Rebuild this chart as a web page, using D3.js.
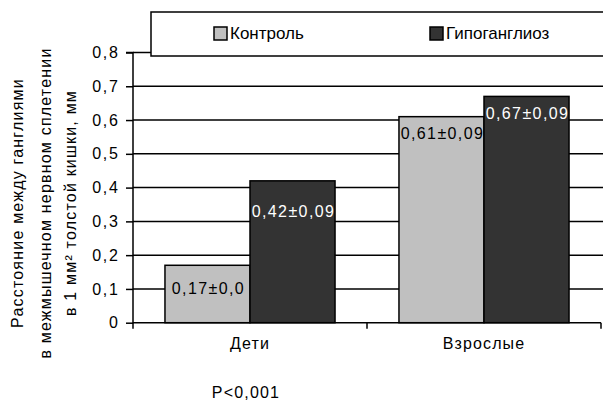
<!DOCTYPE html>
<html>
<head>
<meta charset="utf-8">
<script src="https://cdn.jsdelivr.net/npm/d3@7/dist/d3.min.js"></script>
<style>
  html, body { margin: 0; padding: 0; background: #fff; }
  svg { display: block; font-family: Arial, "Liberation Sans", sans-serif; }
</style>
</head>
<body>
<svg id="chart" width="603" height="403"></svg>
<script>
// Distance between ganglia, children vs adults
const categories = ["Дети", "Взрослые"];
const seriesNames = ["Контроль", "Гипоганглиоз"];
const controlValues = [0.17, 0.61];
const hypoValues = [0.42, 0.67];
const controlLabels = ["0,17±0,0", "0,61±0,09"];
const hypoLabels = ["0,42±0,09", "0,67±0,09"];
const yTicks = [0, 0.1, 0.2, 0.3, 0.4, 0.5, 0.6, 0.7, 0.8];
const yTitle = ["Расстояние между ганглиями", "в межмышечном нервном сплетении", "в 1 мм² толстой кишки, мм"];
const note = "P<0,001";

const colors = ["#c0c0c0", "#333333"];
const labelColors = ["#000", "#fff"];
const FONT = "Arial, 'Liberation Sans', sans-serif";

const svg = d3.select("#chart");
const m = { left: 133, right: 601, top: 52.5, bottom: 322.7 };

const y = d3.scaleLinear().domain([0, 0.8]).range([m.bottom, m.top]);
const x0 = d3.scaleBand().domain(categories).range([m.left, m.right]).paddingInner(0).paddingOuter(0);
const x1 = d3.scaleBand().domain(seriesNames).range([0, x0.bandwidth()]).paddingInner(0).paddingOuter(0.376);

// Horizontal gridlines
svg.append("g").selectAll("line").data(yTicks.filter(d => d > 0)).join("line")
  .attr("x1", m.left).attr("x2", m.right + 2)
  .attr("y1", d => y(d)).attr("y2", d => y(d))
  .attr("stroke", "#000").attr("stroke-width", 1.5);

// Y axis
const yAxis = d3.axisLeft(y).tickValues(yTicks).tickSize(7).tickPadding(8)
  .tickFormat(d => d === 0 ? "0" : d3.format(".1f")(d).replace(".", ","));
const yg = svg.append("g").attr("transform", `translate(${m.left},0)`).call(yAxis);
yg.select(".domain").attr("stroke", "#000").attr("stroke-width", 1.5).attr("d", `M-7,${m.top}H0V${m.bottom + 0.5}`);
yg.selectAll(".tick line").attr("stroke", "#000").attr("stroke-width", 1.5);
yg.selectAll(".tick text").attr("font-size", 16).attr("fill", "#000").attr("letter-spacing", 1.8)
  .attr("dx", 1.8).attr("font-family", FONT);

// Bars and value labels, series by series
const seriesData = [
  { name: seriesNames[0], values: controlValues, labels: controlLabels, dy: [23, 16.5] },
  { name: seriesNames[1], values: hypoValues, labels: hypoLabels, dy: [31, 17] }
];
seriesData.forEach((s, si) => {
  const g = svg.append("g");
  g.selectAll("rect").data(categories).join("rect")
    .attr("x", c => x0(c) + x1(s.name))
    .attr("y", (c, i) => y(s.values[i]))
    .attr("width", x1.bandwidth())
    .attr("height", (c, i) => y(0) - y(s.values[i]))
    .attr("fill", colors[si]).attr("stroke", "#000").attr("stroke-width", 1.5);
  g.selectAll("text").data(categories).join("text")
    .attr("x", c => x0(c) + x1(s.name) + x1.bandwidth() / 2 + 1)
    .attr("y", (c, i) => y(s.values[i]) + s.dy[i])
    .attr("dy", "0.35em")
    .attr("text-anchor", "middle")
    .attr("font-size", 16).attr("letter-spacing", 1.4)
    .attr("fill", labelColors[si])
    .text((c, i) => s.labels[i]);
});

// X axis
const xAxis = d3.axisBottom(x0).tickSize(0).tickPadding(15);
const xg = svg.append("g").attr("transform", `translate(0,${m.bottom})`).call(xAxis);
xg.select(".domain").attr("stroke", "#000").attr("stroke-width", 1.5).attr("d", `M${m.left},0H${m.right}`);
xg.selectAll(".tick text").attr("font-size", 16).attr("fill", "#000").attr("letter-spacing", 1.1)
  .attr("font-family", FONT);
xg.append("g").selectAll("line").data([m.left, m.left + x0.bandwidth(), m.right]).join("line")
  .attr("x1", d => d).attr("x2", d => d).attr("y1", 0).attr("y2", 6)
  .attr("stroke", "#000").attr("stroke-width", 1.5);

// Note below the chart
svg.append("text").attr("x", 246).attr("y", 398).attr("text-anchor", "middle")
  .attr("font-size", 16).attr("letter-spacing", 1.2).text(note);

// Y axis title (three rotated lines)
const titleX = [17, 45, 70];
yTitle.forEach((t, i) => {
  svg.append("text")
    .attr("transform", `translate(${titleX[i]},203) rotate(-90)`)
    .attr("text-anchor", "middle").attr("dy", "0.35em")
    .attr("font-size", 16).attr("letter-spacing", 1.2)
    .text(t);
});

// Legend
const lg = svg.append("g");
lg.append("rect").attr("x", 151).attr("y", 12).attr("width", 470).attr("height", 44)
  .attr("fill", "#fff").attr("stroke", "#000").attr("stroke-width", 1.5);
const legendX = [214, 430];
seriesNames.forEach((n, i) => {
  lg.append("rect").attr("x", legendX[i]).attr("y", 27).attr("width", 13).attr("height", 13)
    .attr("fill", colors[i]).attr("stroke", "#000").attr("stroke-width", 1.5);
  lg.append("text").attr("x", legendX[i] + 16).attr("y", 38.5)
    .attr("font-size", 17).text(n);
});
</script>
</body>
</html>
